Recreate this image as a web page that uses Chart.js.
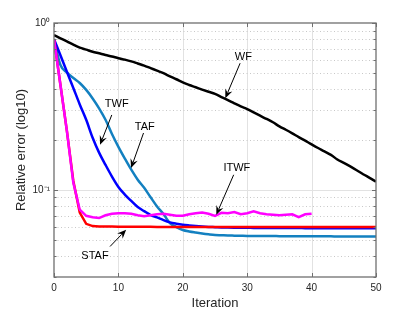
<!DOCTYPE html>
<html><head><meta charset="utf-8">
<script src="https://cdn.jsdelivr.net/npm/chart.js@4/dist/chart.umd.min.js"></script>
<style>html,body{margin:0;padding:0;background:#fff}</style>
</head><body>
<canvas id="c" width="415" height="312"></canvas>
<script>
// ---------- data ----------
const iterations = [0,1,2,3,4,5,6,7,8,9,10,11,12,13,14,15,16,17,18,19,20,21,22,23,24,25,26,27,28,29,30,31,32,33,34,35,36,37,38,39,40,41,42,43,44,45,46,47,48,49,50];
const wf = [0.847,0.81,0.776,0.741,0.711,0.692,0.673,0.658,0.643,0.63,0.615,0.603,0.589,0.572,0.555,0.536,0.518,0.5,0.479,0.46,0.44,0.425,0.412,0.399,0.387,0.376,0.36,0.345,0.33,0.316,0.305,0.291,0.278,0.266,0.254,0.24,0.229,0.218,0.207,0.197,0.187,0.178,0.17,0.162,0.152,0.145,0.138,0.131,0.124,0.118,0.112];
const twf = [0.80,0.64,0.51,0.408,0.325,0.263,0.205,0.167,0.141,0.12,0.104,0.0936,0.0857,0.0788,0.0745,0.0706,0.0683,0.0658,0.0638,0.0626,0.0617,0.0611,0.0606,0.0602,0.0599,0.0597,0.0595,0.0594,0.0593,0.0592,0.0592,0.0591,0.0591,0.0591,0.059,0.059,0.059,0.059,0.059,0.0589,0.0589,0.0589,0.0589,0.0589,0.0588,0.0588,0.0588,0.0588,0.0588,0.0588,0.0588];
const taf = [0.80,0.56,0.505,0.468,0.437,0.397,0.353,0.308,0.263,0.216,0.181,0.154,0.132,0.115,0.1028,0.0902,0.0794,0.0715,0.0632,0.0598,0.0574,0.0562,0.0554,0.0547,0.0541,0.0536,0.0534,0.0532,0.0531,0.053,0.0529,0.0529,0.0528,0.0528,0.0528,0.0527,0.0527,0.0527,0.0527,0.0526,0.0526,0.0526,0.0526,0.0526,0.0525,0.0525,0.0525,0.0525,0.0525,0.0525,0.0525];
const itwf = [0.80,0.425,0.2255,0.11,0.076,0.0698,0.0684,0.0677,0.0703,0.0718,0.0723,0.0723,0.0718,0.0703,0.0693,0.0703,0.0713,0.0718,0.0708,0.0698,0.0698,0.0713,0.0723,0.0730,0.0718,0.0697,0.0728,0.0723,0.0735,0.0713,0.0723,0.0743,0.0723,0.0713,0.0708,0.0703,0.0708,0.0713,0.0686,0.0713,0.0718];
const staf = [0.80,0.425,0.2255,0.113,0.073,0.0625,0.0606,0.0603,0.0602,0.0602,0.0601,0.0601,0.06,0.06,0.06,0.06,0.0599,0.0599,0.0599,0.0599,0.0599,0.0599,0.0599,0.0599,0.0598,0.0598,0.0598,0.0598,0.0598,0.0598,0.0598,0.0598,0.0598,0.0598,0.0598,0.0598,0.0598,0.0598,0.0598,0.0598,0.0598,0.0598,0.0598,0.0598,0.0598,0.0598,0.0598,0.0598,0.0598,0.0598,0.0598];

const xTicks = [0,10,20,30,40,50];
const yTicks = [0.03,0.04,0.05,0.06,0.07,0.08,0.09,0.1,0.2,0.3,0.4,0.5,0.6,0.7,0.8,0.9,1];
const yMajor = [0.1,1];
const yTickLabels = {'0.1':'10\u207B\u00B9','1':'10\u2070'};

// annotation labels and anchor points (data coordinates)
const annLabels = ['WF','TWF','TAF','ITWF','STAF'];
const annTextX = [29.4, 9.74, 14.1, 28.4, 6.37];
const annTextY = [0.628, 0.326, 0.239, 0.135, 0.0399];
const annFromX = [28.9, 8.97, 13.9, 27.9, 8.7];
const annFromY = [0.574, 0.281, 0.219, 0.123, 0.0457];
const annTipX = [26.6, 7.15, 11.97, 25.2, 11.2];
const annTipY = [0.354, 0.186, 0.135, 0.0708, 0.0576];

// ---------- chart ----------
const FONT = "'Liberation Sans', Arial, Helvetica, sans-serif";
const pts = arr => arr.map((v,i)=>({x:iterations[i], y:v}));
function ds(label, arr, color, smooth){
  const d = {label, data: pts(arr), borderColor: color, backgroundColor: color,
    borderWidth: 2.5, pointRadius: 0, tension: 0, fill: false};
  if (smooth) d.cubicInterpolationMode = 'monotone';
  return d;
}

const matlabPlugin = {
  id: 'matlab',
  beforeDatasetsDraw(chart){
    const {ctx, chartArea:a, scales:{x, y}} = chart;
    ctx.save();
    ctx.lineWidth = 1;
    ctx.strokeStyle = '#e2e2e2';
    xTicks.forEach(v=>{
      if (v===0||v===50) return;
      const px = Math.round(x.getPixelForValue(v))+0.5;
      ctx.beginPath(); ctx.moveTo(px,a.top); ctx.lineTo(px,a.bottom); ctx.stroke();
    });
    yTicks.forEach(v=>{
      if (v===1||v===0.03) return;
      const py = Math.round(y.getPixelForValue(v))+0.5;
      if (yMajor.includes(v)) { ctx.setLineDash([]); ctx.strokeStyle='#e2e2e2'; }
      else { ctx.setLineDash([1,2.5]); ctx.strokeStyle='#c8c8c8'; }
      ctx.beginPath(); ctx.moveTo(a.left,py); ctx.lineTo(a.right,py); ctx.stroke();
    });
    ctx.restore();
  },
  afterDatasetsDraw(chart){
    const {ctx, chartArea:a, scales:{x, y}} = chart;
    ctx.save();
    ctx.strokeStyle = '#6f6f6f';
    ctx.lineWidth = 1.3;
    ctx.setLineDash([]);
    ctx.strokeRect(a.left, a.top, a.right-a.left, a.bottom-a.top);
    ctx.lineWidth = 1;
    xTicks.forEach(v=>{
      const px = Math.round(x.getPixelForValue(v))+0.5;
      ctx.beginPath();
      ctx.moveTo(px,a.bottom); ctx.lineTo(px,a.bottom-4);
      ctx.moveTo(px,a.top); ctx.lineTo(px,a.top+4);
      ctx.stroke();
    });
    yTicks.forEach(v=>{
      const py = Math.round(y.getPixelForValue(v))+0.5;
      const L = yMajor.includes(v) ? 4 : 2.5;
      ctx.beginPath();
      ctx.moveTo(a.left,py); ctx.lineTo(a.left+L,py);
      ctx.moveTo(a.right,py); ctx.lineTo(a.right-L,py);
      ctx.stroke();
    });
    ctx.fillStyle = '#000'; ctx.strokeStyle = '#000';
    ctx.font = '11px ' + FONT;
    ctx.textAlign = 'center'; ctx.textBaseline = 'middle';
    annLabels.forEach((t,i)=>{
      ctx.fillText(t, x.getPixelForValue(annTextX[i]), y.getPixelForValue(annTextY[i]));
      const x1 = x.getPixelForValue(annFromX[i]), y1 = y.getPixelForValue(annFromY[i]);
      const x2 = x.getPixelForValue(annTipX[i]), y2 = y.getPixelForValue(annTipY[i]);
      const ang = Math.atan2(y2-y1, x2-x1), c = Math.cos(ang), s = Math.sin(ang);
      const L = 9, W = 3.8;
      ctx.lineWidth = 1;
      ctx.beginPath(); ctx.moveTo(x1,y1); ctx.lineTo(x2-L*0.7*c, y2-L*0.7*s); ctx.stroke();
      ctx.beginPath();
      ctx.moveTo(x2,y2);
      ctx.lineTo(x2-L*c+W*s, y2-L*s-W*c);
      ctx.lineTo(x2-L*0.65*c, y2-L*0.65*s);
      ctx.lineTo(x2-L*c-W*s, y2-L*s+W*c);
      ctx.closePath(); ctx.fill();
    });
    ctx.restore();
  }
};

new Chart(document.getElementById('c'), {
  type: 'line',
  data: {
    datasets: [
      ds('ITWF', itwf, '#ff00ff', false),
      ds('STAF', staf, '#ff0000', false),
      ds('TWF', twf, '#0000ff', true),
      ds('TAF', taf, '#1380c0', true),
      ds('WF', wf, '#000000', true)
    ]
  },
  options: {
    responsive: false,
    animation: false,
    devicePixelRatio: 1,
    layout: { padding: { left: 0, top: 23, right: 39, bottom: 0 } },
    plugins: { legend: { display: false }, tooltip: { enabled: false } },
    scales: {
      x: {
        type: 'linear', min: 0, max: 50,
        afterBuildTicks: s => { s.ticks = xTicks.map(v=>({value:v})); },
        afterFit: s => { s.height = 35; },
        grid: { display: false, drawTicks: false },
        border: { display: false },
        ticks: { color: '#262626', font: { family: FONT, size: 10 }, padding: 5, maxRotation: 0 },
        title: { display: true, text: 'Iteration', color: '#262626',
          font: { family: FONT, size: 13 }, padding: { top: 0, bottom: 1 } }
      },
      y: {
        type: 'logarithmic', min: 0.03, max: 1,
        afterBuildTicks: s => { s.ticks = yTicks.map(v=>({value:v})); },
        afterFit: s => { s.width = 54; },
        grid: { display: false, drawTicks: false },
        border: { display: false },
        ticks: { color: '#262626', font: { family: FONT, size: 10 }, padding: 4,
          autoSkip: false,
          callback: v => yTickLabels[String(v)] || '' },
        title: { display: true, text: 'Relative error (log10)', color: '#262626',
          font: { family: FONT, size: 13 }, padding: { top: 14, bottom: 0 } }
      }
    }
  },
  plugins: [matlabPlugin]
});
</script>
</body></html>
